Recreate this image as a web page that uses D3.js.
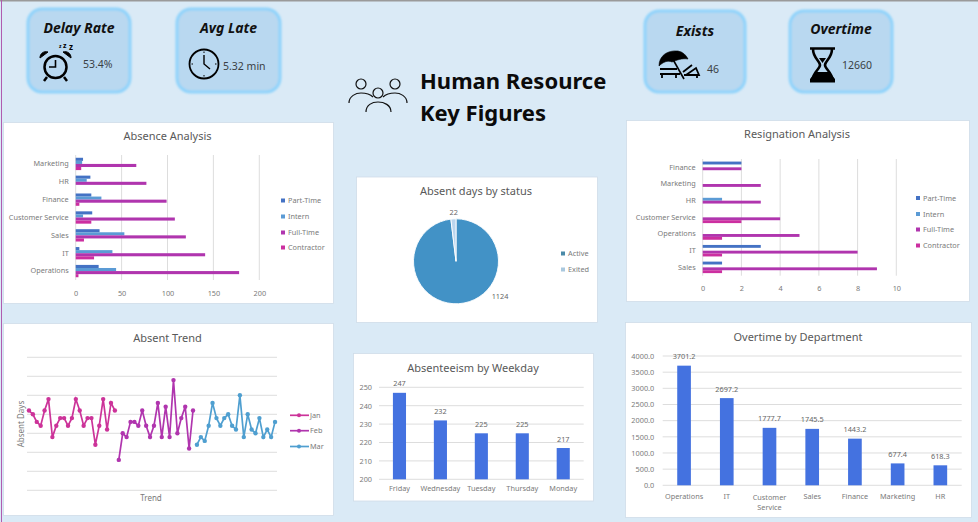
<!DOCTYPE html>
<html>
<head>
<meta charset="utf-8">
<script src="https://cdnjs.cloudflare.com/ajax/libs/d3/7.8.5/d3.min.js"></script>
<style>
  body { margin: 0; background: #daeaf6; }
  svg { display: block; }
  text { font-family: "Noto Sans", sans-serif; }
</style>
</head>
<body>
<svg id="chart" width="978" height="522"></svg>
<script>
// values
var seriesNames = ["Part-Time", "Intern", "Full-Time", "Contractor"];
var seriesColors = ["#4472c4", "#5b9bd5", "#b035ae", "#cc2fa0"];

var absenceDepts = ["Marketing", "HR", "Finance", "Customer Service", "Sales", "IT", "Operations"];
var absencePartTime = [8, 16, 17, 18, 26, 4, 25];
var absenceIntern = [7, 12, 28, 8, 53, 40, 44];
var absenceFullTime = [66, 77, 99, 108, 120, 141, 178];
var absenceContractor = [6, 0, 4, 17, 9, 20, 3];
var absenceTicks = [0, 50, 100, 150, 200];

var resignDepts = ["Finance", "Marketing", "HR", "Customer Service", "Operations", "IT", "Sales"];
var resignPartTime = [2, 0, 0, 0, 0, 3, 1];
var resignIntern = [0, 0, 1, 0, 0, 0, 0];
var resignFullTime = [2, 3, 3, 4, 5, 8, 9];
var resignContractor = [0, 0, 0, 2, 1, 1, 1];
var resignTicks = [0, 2, 4, 6, 8, 10];

var trendJan = [21, 20, 18, 17, 21, 24, 14, 17, 19, 19, 17, 19, 24, 21, 17, 19, 19, 12, 17, 24, 16, 23, 21];
var trendFeb = [8, 15, 14, 18, 18, 17, 21, 17, 14, 17, 23, 14, 22, 14, 29, 15, 19, 22, 11, 21];
var trendMar = [12, 14, 13, 17, 23, 19, 17, 19, 20, 17, 16, 25, 14, 20, 16, 15, 19, 14, 16, 14, 18];
var trendNames = ["Jan", "Feb", "Mar"];
var trendColors = ["#cc3399", "#b035ae", "#4f9fd0"];
var trendTicks = [0, 5, 10, 15, 20, 25, 30, 35];

var statusNames = ["Active", "Exited"];
var statusValues = [1124, 22];
var statusColors = ["#4292c6", "#bcd6ee"];

var weekdays = ["Friday", "Wednesday", "Tuesday", "Thursday", "Monday"];
var weekdayValues = [247, 232, 225, 225, 217];
var weekdayTicks = [200, 210, 220, 230, 240, 250];

var overtimeDepts = ["Operations", "IT", "Customer Service", "Sales", "Finance", "Marketing", "HR"];
var overtimeValues = [3701.2, 2697.2, 1777.7, 1745.5, 1443.2, 677.4, 618.3];
var overtimeTicks = [0, 500, 1000, 1500, 2000, 2500, 3000, 3500, 4000];

var svg = d3.select("#chart");
var gridColor = "#d9d9d9";
var labelColor = "#7a7a7a";
var titleColor = "#595959";
var barBlue = "#4472e0";

// page edges
svg.append("rect").attr("width", 978).attr("height", 1.5).attr("fill", "#9a9a9a");
svg.append("rect").attr("x", 1).attr("width", 1).attr("height", 522).attr("fill", "#b05cb0");

var defs = svg.append("defs");
defs.append("filter").attr("id", "glow").attr("x", "-10%").attr("y", "-10%").attr("width", "120%").attr("height", "120%")
  .append("feGaussianBlur").attr("stdDeviation", 1);

function panel(x, y, w, h, title, titleX, titleY) {
  svg.append("rect").attr("x", x).attr("y", y).attr("width", w).attr("height", h)
    .attr("fill", "#fff").attr("stroke", "#cfdde8").attr("stroke-width", 0.8);
  svg.append("text").attr("x", titleX).attr("y", titleY).attr("text-anchor", "middle")
    .attr("font-size", 11).attr("fill", titleColor).text(title);
}

function styleAxis(g) {
  g.select(".domain").remove();
  g.selectAll(".tick line").remove();
  g.selectAll("text").attr("font-size", 7.3).attr("fill", labelColor)
    .style("font-family", '"Noto Sans", sans-serif');
}

function squareLegend(x, ys, names, colors) {
  names.forEach(function (name, i) {
    svg.append("rect").attr("x", x).attr("y", ys[i] - 2).attr("width", 4).attr("height", 4).attr("fill", colors[i]);
    svg.append("text").attr("x", x + 7).attr("y", ys[i] + 2.5).attr("font-size", 7.3)
      .attr("fill", labelColor).text(name);
  });
}

// grouped horizontal bars, shared by the absence and resignation charts
function hBars(box, depts, rows, ticks, maxTick) {
  var x = d3.scaleLinear().domain([0, maxTick]).range([box.left, box.right]);
  var y = d3.scaleBand().domain(depts).range([box.top, box.bottom]).paddingInner(0.31).paddingOuter(0.155);
  var inner = d3.scaleBand().domain(seriesNames).range([0, y.bandwidth()]);

  svg.append("g").selectAll("line").data(ticks).join("line")
    .attr("x1", function (d) { return x(d); }).attr("x2", function (d) { return x(d); })
    .attr("y1", box.top).attr("y2", box.bottom)
    .attr("stroke", gridColor).attr("stroke-width", 0.9);

  rows.forEach(function (values, s) {
    svg.append("g").selectAll("rect").data(values).join("rect")
      .attr("x", x(0))
      .attr("y", function (d, i) { return y(depts[i]) + inner(seriesNames[s]); })
      .attr("width", function (d) { return x(d) - x(0); })
      .attr("height", inner.bandwidth())
      .attr("fill", seriesColors[s]);
  });

  svg.append("g").attr("transform", "translate(0," + box.axisY + ")")
    .call(d3.axisBottom(x).tickValues(ticks).tickSize(0).tickPadding(0)).call(styleAxis);
  svg.append("g").attr("transform", "translate(" + (box.left - 7) + ",0)")
    .call(d3.axisLeft(y).tickSize(0).tickPadding(0)).call(styleAxis);
}

// single series columns with value labels
function columns(box, cats, values, ticks, domain, fmt, tickFmt) {
  var x = d3.scaleBand().domain(cats).range([box.left, box.right]).paddingInner(0.68).paddingOuter(0.34);
  var y = d3.scaleLinear().domain(domain).range([box.bottom, box.top]);

  svg.append("g").selectAll("line").data(ticks).join("line")
    .attr("x1", box.left).attr("x2", box.right)
    .attr("y1", function (d) { return y(d); }).attr("y2", function (d) { return y(d); })
    .attr("stroke", gridColor).attr("stroke-width", 0.9);

  svg.append("g").selectAll("rect").data(values).join("rect")
    .attr("x", function (d, i) { return x(cats[i]); })
    .attr("y", function (d) { return y(d); })
    .attr("width", x.bandwidth())
    .attr("height", function (d) { return y(domain[0]) - y(d); })
    .attr("fill", barBlue);

  svg.append("g").selectAll("text").data(values).join("text")
    .attr("x", function (d, i) { return x(cats[i]) + x.bandwidth() / 2; })
    .attr("y", function (d) { return y(d) - 6.5; })
    .attr("text-anchor", "middle").attr("font-size", 7.3).attr("fill", "#666")
    .text(fmt);

  svg.append("g").attr("transform", "translate(" + (box.left - box.tickGap) + ",0)")
    .call(d3.axisLeft(y).tickValues(ticks).tickSize(0).tickPadding(0).tickFormat(tickFmt)).call(styleAxis);
  return x;
}

/* ---- KPI cards ---- */
function card(x, y, w, h, title, titleY, value, valueX, valueY) {
  svg.append("rect").attr("x", x).attr("y", y).attr("width", w).attr("height", h).attr("rx", 14)
    .attr("fill", "#b9d8f0").attr("stroke", "#8fd3fb").attr("stroke-width", 3).attr("filter", "url(#glow)");
  svg.append("text").attr("x", x + w / 2).attr("y", titleY).attr("text-anchor", "middle")
    .attr("font-size", 14).attr("font-weight", 700).attr("font-style", "italic").attr("fill", "#111").text(title);
  svg.append("text").attr("x", valueX).attr("y", valueY).attr("font-size", 10.5).attr("fill", "#3a3f44").text(value);
}
card(28, 9, 102, 83, "Delay Rate", 33, "53.4%", 83, 68);
card(177, 9, 103, 83, "Avg Late", 33, "5.32 min", 223, 70);
card(645, 11, 100, 81, "Exists", 36, "46", 707, 73);
card(790, 11, 102, 81, "Overtime", 34, "12660", 842, 69);

// alarm clock
var alarm = svg.append("g").attr("fill", "none").attr("stroke", "#000").attr("stroke-width", 2.5);
alarm.append("circle").attr("cx", 55.5).attr("cy", 67).attr("r", 11);
alarm.append("path").attr("d", "M55.5 60V67H49").attr("stroke-width", 1.6);
alarm.append("path").attr("d", "M47 77L44 81M64 77L67 81");
alarm.append("path").attr("d", "M40 58A6 6 0 0 1 48 52Z").attr("fill", "#000").attr("stroke-width", 1);
alarm.append("path").attr("d", "M71 58A6 6 0 0 0 63 52Z").attr("fill", "#000").attr("stroke-width", 1);
alarm.append("text").attr("x", 59).attr("y", 48).attr("font-size", 5).attr("font-weight", 700).attr("fill", "#000").attr("stroke", "none").text("z");
alarm.append("text").attr("x", 63).attr("y", 48).attr("font-size", 7).attr("font-weight", 700).attr("fill", "#000").attr("stroke", "none").text("z");
alarm.append("text").attr("x", 69).attr("y", 49.5).attr("font-size", 8).attr("font-weight", 700).attr("fill", "#000").attr("stroke", "none").text("z");

// wall clock
var clock = svg.append("g").attr("fill", "none").attr("stroke", "#000");
clock.append("circle").attr("cx", 204).attr("cy", 64).attr("r", 14.5).attr("stroke-width", 1.8);
clock.append("path").attr("d", "M204 55V64L210 69").attr("stroke-width", 1.4);
clock.append("path").attr("d", "M204 51.5V53M204 75V76.5M191.5 64H193M215 64H216.5").attr("stroke-width", 1);

// beach umbrella and lounger
var beach = svg.append("g").attr("fill", "none").attr("stroke", "#000").attr("stroke-width", 1.6);
beach.append("path").attr("d", "M659 66C659 56 667 50 678 51C683 52 686 55 688 59C682 58 677 60 672 62C668 60 663 62 659 66Z")
  .attr("fill", "#000").attr("stroke-width", 0.6);
beach.append("path").attr("d", "M671 56L684 79");
beach.append("path").attr("d", "M660 69H677M660 74H680M662 74V78M676 74V78").attr("stroke-width", 1.8);
beach.append("path").attr("d", "M683 72L692 65M686 75L696 68L699 75H684M697 75V78").attr("stroke-width", 1.8);

// hourglass
svg.append("path").attr("fill", "none").attr("stroke", "#000").attr("stroke-width", 2.6)
  .attr("d", "M810 48.5H835M813 49C813 58 820 61 820 65C820 69 813 72 812 81M832 49C832 58 825 61 825 65C825 69 832 72 833 81");
svg.append("path").attr("fill", "#000").attr("d", "M810 82.5V79L816 72H829L835 79V82.5Z");
svg.append("path").attr("fill", "#000").attr("d", "M819 58H826L822.5 63Z");

/* ---- heading ---- */
var people = svg.append("g").attr("fill", "none").attr("stroke", "#111").attr("stroke-width", 1.2);
[[361, 84], [395, 84], [378, 93]].forEach(function (c) {
  people.append("circle").attr("cx", c[0]).attr("cy", c[1]).attr("r", 5);
});
people.append("path").attr("d", "M349 103C349 96 356 93 361 93C365 93 370 94 373 97");
people.append("path").attr("d", "M383 97C386 94 391 93 395 93C400 93 407 96 407 103");
people.append("path").attr("d", "M366 112C366 105 372 102 378 102C384 102 391 105 391 112");
svg.append("text").attr("x", 420).attr("y", 89).attr("font-size", 22).attr("font-weight", 700).attr("fill", "#0b0b0b").text("Human Resource");
svg.append("text").attr("x", 420).attr("y", 121).attr("font-size", 22).attr("font-weight", 700).attr("fill", "#0b0b0b").text("Key Figures");

/* ---- Absence Analysis ---- */
panel(3.5, 122.5, 330, 181, "Absence Analysis", 167.5, 140);
hBars({ left: 75.7, right: 259.3, top: 155, bottom: 280, axisY: 290.5 }, absenceDepts,
  [absencePartTime, absenceIntern, absenceFullTime, absenceContractor], absenceTicks, 200);
squareLegend(281, [200.5, 216.5, 232.5, 247.5], seriesNames, seriesColors);

/* ---- Resignation Analysis ---- */
panel(626.5, 120.5, 343, 181, "Resignation Analysis", 797, 138);
hBars({ left: 702.7, right: 896.3, top: 159, bottom: 275.7, axisY: 285.5 }, resignDepts,
  [resignPartTime, resignIntern, resignFullTime, resignContractor], resignTicks, 10);
squareLegend(916, [198, 214, 229.5, 245.5], seriesNames, seriesColors);

/* ---- Absent Trend ---- */
panel(3.5, 323.5, 330, 192, "Absent Trend", 167.5, 342);
var trendSeries = [trendJan, trendFeb, trendMar];
var trendX = d3.scaleBand().domain(d3.range(trendJan.length + trendFeb.length + trendMar.length)).range([27, 277]);
var trendY = d3.scaleLinear().domain([0, 35]).range([490.3, 357.3]);
svg.append("g").selectAll("line").data(trendTicks).join("line")
  .attr("x1", 27).attr("x2", 277)
  .attr("y1", function (d) { return trendY(d); }).attr("y2", function (d) { return trendY(d); })
  .attr("stroke", gridColor).attr("stroke-width", 0.9);
var trendLine = d3.line()
  .x(function (d) { return trendX(d.i) + trendX.bandwidth() / 2; })
  .y(function (d) { return trendY(d.v); });
var offset = 0;
trendSeries.forEach(function (values, s) {
  var pts = values.map(function (v, i) { return { i: offset + i, v: v }; });
  offset += values.length;
  svg.append("path").datum(pts).attr("d", trendLine).attr("fill", "none")
    .attr("stroke", trendColors[s]).attr("stroke-width", 1.7);
  svg.append("g").selectAll("circle").data(pts).join("circle")
    .attr("cx", trendLine.x()).attr("cy", trendLine.y()).attr("r", 2.2)
    .attr("fill", trendColors[s]);
});
svg.append("text").attr("transform", "translate(23.5,424) rotate(-90)").attr("text-anchor", "middle")
  .attr("font-size", 8).attr("fill", labelColor).text("Absent Days");
svg.append("text").attr("x", 151).attr("y", 501).attr("text-anchor", "middle")
  .attr("font-size", 8).attr("fill", labelColor).text("Trend");
[415.3, 430.7, 446.5].forEach(function (ly, i) {
  svg.append("line").attr("x1", 290).attr("x2", 309).attr("y1", ly).attr("y2", ly)
    .attr("stroke", trendColors[i]).attr("stroke-width", 1.7);
  svg.append("circle").attr("cx", 299).attr("cy", ly).attr("r", 2).attr("fill", trendColors[i]);
  svg.append("text").attr("x", 310).attr("y", ly + 2.5).attr("font-size", 7.3).attr("fill", labelColor).text(trendNames[i]);
});

/* ---- Absent days by status ---- */
panel(356.5, 177, 241, 145.5, "Absent days by status", 476, 195);
var pie = d3.pie().sort(null);
var arc = d3.arc().innerRadius(0).outerRadius(42.5);
svg.append("g").attr("transform", "translate(456,261.3)")
  .selectAll("path").data(pie(statusValues)).join("path")
  .attr("d", arc)
  .attr("fill", function (d, i) { return statusColors[i]; })
  .attr("stroke", "#fff").attr("stroke-width", 0.9);
svg.append("text").attr("x", 453.7).attr("y", 215).attr("text-anchor", "middle").attr("font-size", 7.3).attr("fill", "#666").text(statusValues[1]);
svg.append("text").attr("x", 500).attr("y", 299).attr("text-anchor", "middle").attr("font-size", 7.3).attr("fill", "#666").text(statusValues[0]);
squareLegend(561, [253.5, 269.5], statusNames, ["#4a8aa8", "#a9c8de"]);

/* ---- Absenteeism by Weekday ---- */
panel(353.5, 353.5, 240, 147.5, "Absenteeism by Weekday", 473, 372);
var dayX = columns({ left: 379, right: 583.7, top: 387.3, bottom: 479.3, tickGap: 7 }, weekdays, weekdayValues,
  weekdayTicks, [200, 250], function (d) { return d; }, function (d) { return d; });
svg.append("g").attr("transform", "translate(0,486)")
  .call(d3.axisBottom(dayX).tickSize(0).tickPadding(0)).call(styleAxis);

/* ---- Overtime by Department ---- */
panel(625.5, 322.5, 346, 195, "Overtime by Department", 798, 341);
var otX = columns({ left: 662.7, right: 961.7, top: 356, bottom: 485.3, tickGap: 8.5 }, overtimeDepts, overtimeValues,
  overtimeTicks, [0, 4000], d3.format(".1f"), d3.format(".1f"));
svg.append("g").attr("transform", "translate(0,493.5)")
  .call(d3.axisBottom(otX).tickSize(0).tickPadding(0)
    .tickFormat(function (d) { return d === "Customer Service" ? "" : d; })).call(styleAxis);
// long label wraps onto two lines like the original
var csX = otX("Customer Service") + otX.bandwidth() / 2;
svg.append("text").attr("x", csX).attr("y", 499.5).attr("text-anchor", "middle").attr("font-size", 7.3).attr("fill", labelColor).text("Customer");
svg.append("text").attr("x", csX).attr("y", 509.5).attr("text-anchor", "middle").attr("font-size", 7.3).attr("fill", labelColor).text("Service");
</script>
</body>
</html>
